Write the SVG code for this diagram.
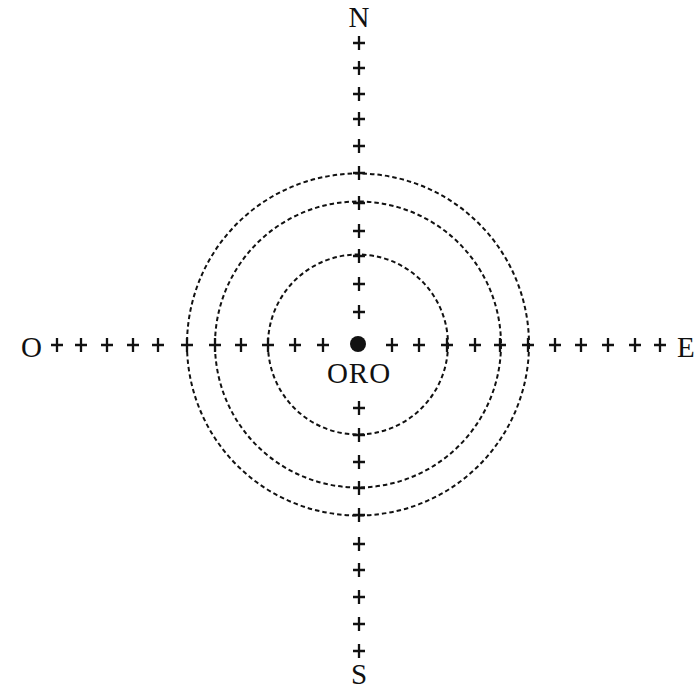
<svg xmlns="http://www.w3.org/2000/svg" xmlns:xlink="http://www.w3.org/1999/xlink" width="699" height="690" viewBox="0 0 699 690">
<style>
.ring{fill:none;stroke:#111;stroke-width:2;stroke-dasharray:4.5 3}
.lbl{font-family:"Liberation Serif","DejaVu Serif",serif;font-size:29px;fill:#111}
</style>
<defs>
<path id="p" d="M-6,0H6M0,-7V7" stroke="#111" stroke-width="2.3" fill="none"/>
</defs>
<rect width="699" height="690" fill="#fff"/>
<g id="rings">
<circle class="ring" cx="358" cy="344.5" r="90"/>
<circle class="ring" cx="358" cy="344.5" r="143"/>
<circle class="ring" cx="358" cy="344.5" r="171"/>
</g>
<g id="connectors">
<use href="#p" x="359" y="43"/><use href="#p" x="359" y="68"/><use href="#p" x="359" y="94"/><use href="#p" x="359" y="119"/><use href="#p" x="359" y="146"/><use href="#p" x="359" y="173"/><use href="#p" x="359" y="203"/><use href="#p" x="359" y="231"/><use href="#p" x="359" y="256"/><use href="#p" x="359" y="284"/><use href="#p" x="359" y="312"/>
<use href="#p" x="359" y="408"/><use href="#p" x="359" y="435"/><use href="#p" x="359" y="462"/><use href="#p" x="359" y="488"/><use href="#p" x="359" y="515"/><use href="#p" x="359" y="544"/><use href="#p" x="359" y="570"/><use href="#p" x="359" y="597"/><use href="#p" x="359" y="624"/><use href="#p" x="359" y="651"/>
<use href="#p" x="57" y="345"/><use href="#p" x="81" y="345"/><use href="#p" x="107" y="345"/><use href="#p" x="133" y="345"/><use href="#p" x="158" y="345"/><use href="#p" x="187" y="345"/><use href="#p" x="215" y="345"/><use href="#p" x="241" y="345"/><use href="#p" x="268" y="345"/><use href="#p" x="295" y="345"/><use href="#p" x="323" y="345"/>
<use href="#p" x="392" y="345"/><use href="#p" x="419" y="345"/><use href="#p" x="447" y="345"/><use href="#p" x="475" y="345"/><use href="#p" x="500" y="345"/><use href="#p" x="528" y="345"/><use href="#p" x="555" y="345"/><use href="#p" x="581" y="345"/><use href="#p" x="608" y="345"/><use href="#p" x="635" y="345"/><use href="#p" x="660" y="345"/>
</g>
<g id="n-north"><text class="lbl" x="359" y="27" text-anchor="middle">N</text></g>
<g id="n-south"><text class="lbl" x="359" y="684" text-anchor="middle">S</text></g>
<g id="n-west"><text class="lbl" x="21" y="357">O</text></g>
<g id="n-east"><text class="lbl" x="677" y="357">E</text></g>
<g id="n-oro">
<circle cx="358" cy="344" r="8" fill="#111"/>
<text class="lbl" x="359" y="383" text-anchor="middle" letter-spacing="1">ORO</text>
</g>
</svg>
